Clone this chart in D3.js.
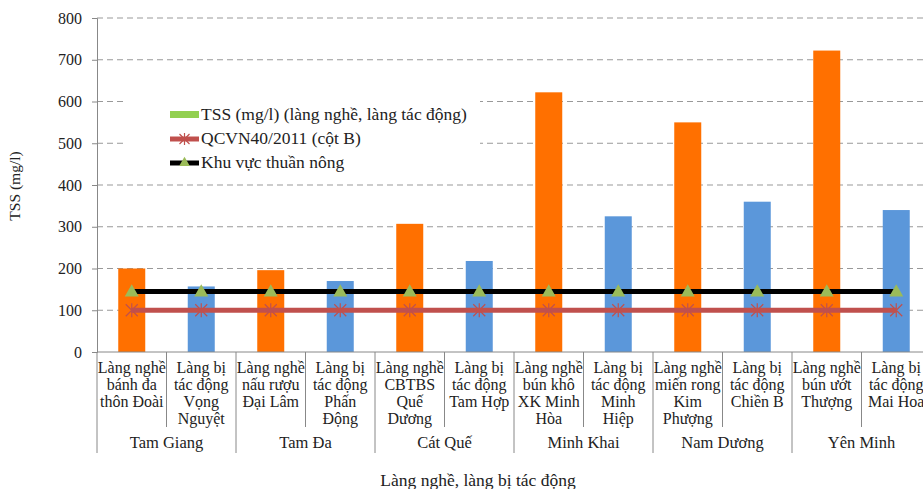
<!DOCTYPE html>
<html>
<head>
<meta charset="utf-8">
<script src="https://cdn.jsdelivr.net/npm/d3@7"></script>
<style>
  body { margin: 0; background: #fff; }
  svg text { font-family: "Times New Roman", Tinos, "Liberation Serif", "DejaVu Serif", serif !important; fill: #222; }
</style>
</head>
<body>
<div id="chart"></div>
<script>
// category labels (line-broken as in the picture)
const categories = [
  ['Làng nghề', 'bánh đa', 'thôn Đoài'],
  ['Làng bị', 'tác động', 'Vọng', 'Nguyệt'],
  ['Làng nghề', 'nấu rượu', 'Đại Lâm'],
  ['Làng bị', 'tác động', 'Phấn', 'Động'],
  ['Làng nghề', 'CBTBS', 'Quế', 'Dương'],
  ['Làng bị', 'tác động', 'Tam Hợp'],
  ['Làng nghề', 'bún khô', 'XK Minh', 'Hòa'],
  ['Làng bị', 'tác động', 'Minh', 'Hiệp'],
  ['Làng nghề', 'miến rong', 'Kim', 'Phượng'],
  ['Làng bị', 'tác động', 'Chiền B'],
  ['Làng nghề', 'bún ướt', 'Thượng'],
  ['Làng bị', 'tác động', 'Mai Hoa']
];
const groups = ['Tam Giang', 'Tam Đa', 'Cát Quế', 'Minh Khai', 'Nam Dương', 'Yên Minh'];
const tssValues = [200, 157, 196, 170, 307, 218, 622, 325, 550, 360, 722, 340];
const qcvnValues = [100, 100, 100, 100, 100, 100, 100, 100, 100, 100, 100, 100];
const farmValues = [145, 145, 145, 145, 145, 145, 145, 145, 145, 145, 145, 145];
const yTicks = [0, 100, 200, 300, 400, 500, 600, 700, 800];

const svg_width = 923, svg_height = 489;
const margin = { top: 18, left: 97 };
const plot_height = 334;
const band = 69.5;
const plot_width = band * categories.length;

const svg = d3.select('#chart')
  .append('svg')
  .attr('width', svg_width)
  .attr('height', svg_height);

const g = svg.append('g')
  .attr('transform', 'translate(' + margin.left + ',' + margin.top + ')');

const x = d3.scaleBand()
  .domain(d3.range(categories.length))
  .range([0, plot_width]);

const y = d3.scaleLinear()
  .domain([0, 800])
  .range([plot_height, 0]);

// grid lines
g.append('g')
  .selectAll('line')
  .data(yTicks.filter(d => d > 0))
  .enter()
  .append('line')
  .attr('x1', 0)
  .attr('x2', plot_width)
  .attr('y1', d => y(d))
  .attr('y2', d => y(d))
  .attr('stroke', '#999')
  .attr('stroke-width', 1)
  .attr('stroke-dasharray', '6,4');

// y axis
const yAxis = g.append('g')
  .call(d3.axisLeft(y).tickValues(yTicks).tickSize(5).tickPadding(10));
yAxis.attr('font-family', null);
yAxis.select('.domain').attr('stroke', '#888');
yAxis.selectAll('.tick line').attr('stroke', '#888');
yAxis.selectAll('.tick text')
  .style('font-size', '16px')
  .attr('fill', '#333');

svg.append('text')
  .attr('transform', 'translate(20,' + (margin.top + 168) + ') rotate(-90)')
  .style('text-anchor', 'middle')
  .style('font-size', '15.5px')
  .text('TSS (mg/l)');

// bars
g.append('g')
  .selectAll('rect')
  .data(tssValues)
  .enter()
  .append('rect')
  .attr('x', (d, i) => x(i) + x.bandwidth() / 2 - 13.5)
  .attr('width', 27)
  .attr('y', d => y(d))
  .attr('height', d => plot_height - y(d))
  .attr('fill', (d, i) => i % 2 === 0 ? '#FF7000' : '#5B97DA');

// lines
const cx = i => x(i) + x.bandwidth() / 2;
const line = d3.line()
  .x((d, i) => cx(i))
  .y(d => y(d));

g.append('path')
  .datum(qcvnValues)
  .attr('d', line)
  .attr('fill', 'none')
  .attr('stroke', '#C0504D')
  .attr('stroke-width', 5);

g.append('g')
  .selectAll('path')
  .data(qcvnValues)
  .enter()
  .append('path')
  .attr('transform', (d, i) => 'translate(' + cx(i) + ',' + y(d) + ')')
  .attr('d', 'M-6,-6L6,6M-6,6L6,-6M0,-7L0,7')
  .attr('stroke', '#C0504D')
  .attr('stroke-width', 1.2)
  .attr('fill', 'none');

g.append('path')
  .datum(farmValues)
  .attr('d', line)
  .attr('fill', 'none')
  .attr('stroke', '#000')
  .attr('stroke-width', 5);

g.append('g')
  .selectAll('path')
  .data(farmValues)
  .enter()
  .append('path')
  .attr('transform', (d, i) => 'translate(' + cx(i) + ',' + (y(d) + 1) + ')')
  .attr('d', d3.symbol().type(d3.symbolTriangle).size(85))
  .attr('fill', '#9BBB59');

// x axis + multi-level labels
const base = plot_height;
g.append('line')
  .attr('x1', 0).attr('x2', plot_width)
  .attr('y1', base).attr('y2', base)
  .attr('stroke', '#888');

g.append('g')
  .selectAll('line')
  .data(d3.range(categories.length + 1))
  .enter()
  .append('line')
  .attr('x1', i => i * band)
  .attr('x2', i => i * band)
  .attr('y1', base)
  .attr('y2', i => i % 2 === 0 ? base + 101 : base + 75)
  .attr('stroke', '#888');

const catText = g.append('g')
  .selectAll('text')
  .data(categories)
  .enter()
  .append('text')
  .attr('x', (d, i) => cx(i))
  .attr('y', base + 21)
  .style('text-anchor', 'middle')
  .style('font-size', '16px');

catText.selectAll('tspan')
  .data(d => d)
  .enter()
  .append('tspan')
  .attr('x', function () { return d3.select(this.parentNode).attr('x'); })
  .attr('dy', (d, i) => i === 0 ? 0 : 17)
  .text(d => d);

g.append('g')
  .selectAll('text')
  .data(groups)
  .enter()
  .append('text')
  .attr('x', (d, i) => (i + 0.5) * band * 2)
  .attr('y', base + 96)
  .style('text-anchor', 'middle')
  .style('font-size', '16.5px')
  .text(d => d);

svg.append('text')
  .attr('x', 478)
  .attr('y', 486)
  .style('text-anchor', 'middle')
  .style('font-size', '17.5px')
  .text('Làng nghề, làng bị tác động');

// legend
const legend = svg.append('g');
legend.append('rect')
  .attr('x', 125).attr('y', 95)
  .attr('width', 355).attr('height', 84)
  .attr('fill', '#fff');

legend.append('rect')
  .attr('x', 170).attr('y', 111)
  .attr('width', 29).attr('height', 7)
  .attr('fill', '#92D050');

legend.append('line')
  .attr('x1', 170).attr('x2', 199)
  .attr('y1', 139).attr('y2', 139)
  .attr('stroke', '#C0504D').attr('stroke-width', 5);
legend.append('path')
  .attr('transform', 'translate(184.5,139)')
  .attr('d', 'M-5,-5L5,5M-5,5L5,-5M0,-6L0,6')
  .attr('stroke', '#C0504D').attr('stroke-width', 1.2);

legend.append('line')
  .attr('x1', 170).attr('x2', 199)
  .attr('y1', 163).attr('y2', 163)
  .attr('stroke', '#000').attr('stroke-width', 5);
legend.append('path')
  .attr('transform', 'translate(184.5,163)')
  .attr('d', d3.symbol().type(d3.symbolTriangle).size(50))
  .attr('fill', '#9BBB59');

const legendLabels = ['TSS (mg/l) (làng nghề, làng tác động)', 'QCVN40/2011 (cột B)', 'Khu vực thuần nông'];
legend.selectAll('text.lbl')
  .data(legendLabels)
  .enter()
  .append('text')
  .attr('class', 'lbl')
  .attr('x', 201)
  .attr('y', (d, i) => 120 + i * 24)
  .style('font-size', '17.5px')
  .text(d => d);
</script>
</body>
</html>
